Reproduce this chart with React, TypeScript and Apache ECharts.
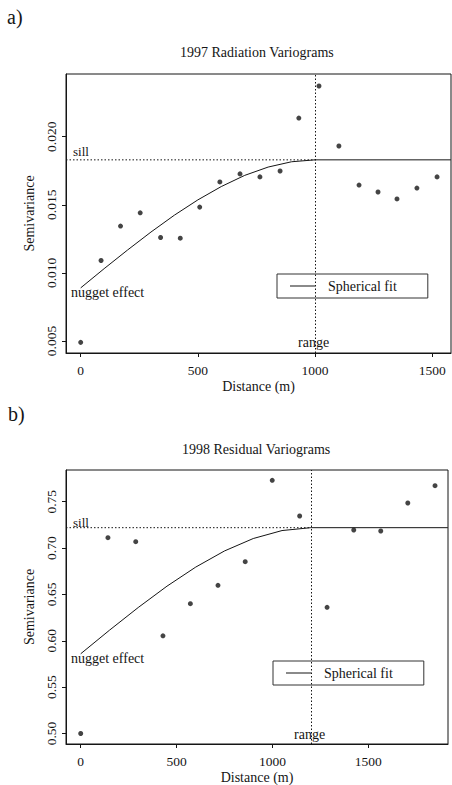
import React, { useEffect, useRef } from "react";
import * as echarts from "echarts";

// ---- Panel a) 1997 Radiation Variograms ----
const topDist = [0, 87, 170, 254, 341, 425, 508, 594, 680, 765, 851, 931, 1017, 1102, 1188, 1269, 1350, 1435, 1521];
const topSemi = [0.0049, 0.01091, 0.01344, 0.01441, 0.0126, 0.01255, 0.01483, 0.01668, 0.01727, 0.01705, 0.01748, 0.02137, 0.02372, 0.01932, 0.01645, 0.01594, 0.01543, 0.01623, 0.01705];
const topFitDist = [0, 100, 200, 300, 400, 500, 600, 700, 800, 900, 1000, 1580];
const topFitSemi = [0.0089, 0.01031, 0.01168, 0.013, 0.01424, 0.01536, 0.01634, 0.01716, 0.01777, 0.01816, 0.0183, 0.0183];
const topSill = 0.0183;
const topRange = 1000;
const topXTicks = [0, 500, 1000, 1500];
const topYTicks = [0.005, 0.01, 0.015, 0.02];

// ---- Panel b) 1998 Residual Variograms ----
const botDist = [0, 142, 287, 429, 572, 716, 858, 999, 1142, 1285, 1424, 1565, 1706, 1848];
const botSemi = [0.5, 0.7112, 0.7069, 0.6054, 0.64, 0.6598, 0.6853, 0.7731, 0.7346, 0.6361, 0.7195, 0.7184, 0.7486, 0.7673];
const botFitDist = [0, 150, 300, 450, 600, 750, 900, 1050, 1200, 1915];
const botFitSemi = [0.586, 0.6114, 0.6359, 0.6589, 0.6795, 0.6969, 0.7103, 0.7189, 0.722, 0.722];
const botSill = 0.722;
const botRange = 1200;
const botXTicks = [0, 500, 1000, 1500];
const botYTicks = [0.5, 0.55, 0.6, 0.65, 0.7, 0.75];

const FONT = "'Liberation Serif', 'Times New Roman', serif";
const INK = "#151515";

const zip = (a: number[], b: number[]) => a.map((v, i) => [v, b[i]]);

export default function App() {
  const ref = useRef<HTMLDivElement>(null);
  useEffect(() => {
    if (!ref.current) return;
    const chart = echarts.init(ref.current, null, { renderer: "svg" });

    const xAxisBase = (gridIndex: number, min: number, max: number, ticks: number[]) => ({
      gridIndex,
      type: "value",
      min,
      max,
      splitLine: { show: false },
      axisLine: { show: true, onZero: false, lineStyle: { color: INK, width: 1 } },
      axisTick: { show: true, length: 4, customValues: ticks, lineStyle: { color: INK } },
      axisLabel: {
        customValues: ticks,
        fontFamily: FONT,
        fontSize: 13.5,
        color: INK,
        margin: 10,
        formatter: (v: number) => String(Math.round(v)),
      },
      name: "Distance (m)",
      nameLocation: "middle",
      nameGap: 26,
      nameTextStyle: { fontFamily: FONT, fontSize: 14, color: INK },
    });
    const yAxisBase = (gridIndex: number, min: number, max: number, ticks: number[], digits: number) => ({
      gridIndex,
      type: "value",
      min,
      max,
      splitLine: { show: false },
      axisLine: { show: true, onZero: false, lineStyle: { color: INK, width: 1 } },
      axisTick: { show: true, length: 4, customValues: ticks, lineStyle: { color: INK } },
      axisLabel: {
        customValues: ticks,
        rotate: 90,
        fontFamily: FONT,
        fontSize: 13.5,
        color: INK,
        margin: 8,
        formatter: (v: number) => v.toFixed(digits),
      },
      name: "Semivariance",
      nameLocation: "middle",
      nameGap: 23,
      nameTextStyle: { fontFamily: FONT, fontSize: 14, color: INK },
    });

    const scatter = (i: number, x: number[], y: number[]) => ({
      type: "scatter",
      xAxisIndex: i,
      yAxisIndex: i,
      data: zip(x, y),
      symbol: "circle",
      symbolSize: 5,
      itemStyle: { color: INK },
      silent: true,
    });
    const fit = (i: number, x: number[], y: number[]) => ({
      name: "Spherical fit",
      type: "line",
      xAxisIndex: i,
      yAxisIndex: i,
      data: zip(x, y),
      showSymbol: false,
      symbol: "none",
      color: INK,
      lineStyle: { color: INK, width: 1 },
      silent: true,
    });
    const sill = (i: number, xmin: number, range: number, s: number) => ({
      type: "line",
      xAxisIndex: i,
      yAxisIndex: i,
      data: [
        [xmin, s],
        [range, s],
      ],
      showSymbol: false,
      symbol: "none",
      lineStyle: { color: INK, width: 1, type: [1.5, 2] },
      silent: true,
      markLine: {
        silent: true,
        symbol: "none",
        label: { show: false },
        lineStyle: { color: INK, width: 1, type: [1.5, 2] },
        data: [{ xAxis: range }],
      },
    });

    const text = (t: string, x: number, y: number, size: number) => ({
      type: "text",
      x,
      y,
      silent: true,
      style: { text: t, font: `${size}px ${FONT}`, fill: INK, align: "left", verticalAlign: "top" },
    });

    const legend = (left: number, top: number) => ({
      data: ["Spherical fit"],
      left,
      top,
      orient: "horizontal",
      borderColor: "#333",
      borderWidth: 1,
      borderRadius: 0,
      padding: [5, 31, 5, 13],
      itemWidth: 25,
      itemHeight: 1,
      icon: "rect",
      selectedMode: false,
      textStyle: { fontFamily: FONT, fontSize: 14, color: INK, padding: [0, 0, 0, 8] },
    });

    const topXMin = -62.7, topXMax = 1580.5;
    const botXMin = -76.7, botXMax = 1915.7;

    chart.setOption({
      animation: false,
      backgroundColor: "#ffffff",
      title: [
        {
          text: "1997 Radiation Variograms",
          left: 180,
          top: 45,
          padding: 0,
          textStyle: { fontFamily: FONT, fontSize: 14, fontWeight: "normal", color: INK },
        },
        {
          text: "1998 Residual Variograms",
          left: 182,
          top: 442,
          padding: 0,
          textStyle: { fontFamily: FONT, fontSize: 14, fontWeight: "normal", color: INK },
        },
      ],
      grid: [
        { left: 66, top: 74, width: 385, height: 279, show: true, borderColor: INK, borderWidth: 1, containLabel: false },
        { left: 66, top: 470, width: 382, height: 274, show: true, borderColor: INK, borderWidth: 1, containLabel: false },
      ],
      xAxis: [xAxisBase(0, topXMin, topXMax, topXTicks), xAxisBase(1, botXMin, botXMax, botXTicks)],
      yAxis: [
        yAxisBase(0, 0.004119, 0.024604, topYTicks, 3),
        yAxisBase(1, 0.4887, 0.7842, botYTicks, 2),
      ],
      legend: [legend(277, 274), legend(273, 661)],
      series: [
        scatter(0, topDist, topSemi),
        fit(0, topFitDist, topFitSemi),
        sill(0, topXMin, topRange, topSill),
        scatter(1, botDist, botSemi),
        fit(1, botFitDist, botFitSemi),
        sill(1, botXMin, botRange, botSill),
      ],
      graphic: [
        text("a)", 7, 7, 20),
        text("b)", 8, 404, 20),
        text("sill", 73, 145, 13),
        text("nugget effect", 71, 285, 14),
        text("range", 298, 335, 14),
        text("sill", 73, 516, 13),
        text("nugget effect", 71, 651, 14),
        text("range", 294, 727, 14),
      ],
    });
    return () => chart.dispose();
  }, []);
  return (
    <div
      ref={ref}
      style={{ position: "absolute", left: 0, top: 0, width: 452, height: 785, background: "#fff" }}
    />
  );
}
